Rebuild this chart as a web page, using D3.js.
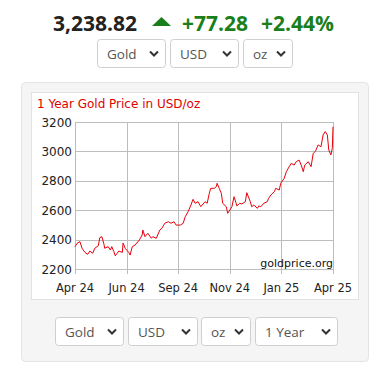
<!DOCTYPE html>
<html>
<head>
<meta charset="utf-8">
<script src="https://cdn.jsdelivr.net/npm/d3@7"></script>
<style>
  html, body { margin: 0; padding: 0; background: #fff; }
  svg { display: block; }
</style>
</head>
<body>
<script>
// header numbers
const price = "3,238.82";
const change = "+77.28";
const changePct = "+2.44%";

// dropdowns
const topSelects = ["Gold", "USD", "oz"];
const bottomSelects = ["Gold", "USD", "oz", "1 Year"];

// chart data: day offset from start of the 1-year window, and price in USD/oz
const days = [0, 3, 7, 10, 14, 18, 21, 25, 28, 33, 35, 38, 41, 42, 47, 50, 52, 55, 57, 62,
  67, 68, 71, 76, 78, 81, 85, 91, 95, 96, 99, 103, 108, 110, 115, 120, 123, 127, 132, 136,
  140, 143, 149, 153, 156, 160, 164, 167, 170, 174, 178, 184, 187, 190, 192, 197, 200, 201, 204, 207,
  209, 214, 216, 219, 222, 225, 228, 229, 233, 236, 241, 243, 248, 250, 253, 258, 260, 263, 267, 272,
  274, 277, 282, 284, 289, 291, 296, 299, 303, 306, 310, 313, 317, 320, 323, 325, 330, 334, 337, 340,
  344, 348, 351, 354, 357, 359, 362, 364, 365];
const prices = [2352, 2375, 2386, 2341, 2313, 2300, 2322, 2307, 2341, 2358, 2413, 2420, 2368, 2341, 2352, 2329, 2352, 2318, 2290, 2322,
  2313, 2377, 2341, 2313, 2295, 2352, 2363, 2397, 2431, 2465, 2420, 2443, 2409, 2420, 2409, 2465, 2477, 2511, 2522, 2511,
  2522, 2499, 2499, 2511, 2556, 2590, 2635, 2674, 2647, 2658, 2624, 2658, 2647, 2715, 2749, 2749, 2760, 2783, 2749, 2715,
  2647, 2624, 2579, 2601, 2624, 2692, 2647, 2629, 2647, 2642, 2658, 2719, 2658, 2624, 2635, 2613, 2629, 2624, 2647, 2658,
  2681, 2703, 2726, 2749, 2737, 2783, 2817, 2862, 2896, 2919, 2907, 2930, 2941, 2907, 2862, 2907, 2930, 2896, 2987, 3000,
  3044, 3032, 3112, 3135, 3112, 3010, 2976, 3021, 3168];

const xTickDays = [0, 73, 146, 219, 292, 365];
const xTickLabels = ["Apr 24", "Jun 24", "Sep 24", "Nov 24", "Jan 25", "Apr 25"];
const yTicks = [2200, 2400, 2600, 2800, 3000, 3200];

const W = 386, H = 375;
const svg = d3.select("body").append("svg")
  .attr("width", W)
  .attr("height", H);

svg.append("rect").attr("width", W).attr("height", H).attr("fill", "#fff");

// header line
const head = svg.append("text")
  .attr("x", 53)
  .attr("y", 31)
  .style("font-family", "'Open Sans', sans-serif")
  .style("font-weight", "bold")
  .style("font-size", "21px");
head.append("tspan").attr("fill", "#222").text(price);
head.append("tspan").attr("x", 182).attr("fill", "#1a7f1a").text(change);
head.append("tspan").attr("x", 261).attr("fill", "#1a7f1a").text(changePct);

svg.append("path")
  .attr("d", "M152,26 L161.5,17 L171,26 Z")
  .attr("fill", "#1a7f1a");

// dropdown boxes
function drawSelect(x, y, w, label) {
  const g = svg.append("g").attr("transform", `translate(${x},${y})`);
  g.append("rect")
    .attr("x", 0.5).attr("y", 0.5)
    .attr("width", w).attr("height", 28)
    .attr("rx", 3)
    .attr("fill", "#fff")
    .attr("stroke", "#cfcfcf");
  g.append("text")
    .attr("x", 10)
    .attr("y", 20)
    .attr("fill", "#555")
    .style("font-family", "'Open Sans', sans-serif")
    .style("font-size", "13.5px")
    .text(label);
  g.append("path")
    .attr("d", `M${w - 15},12.5 L${w - 11},16.5 L${w - 7},12.5`)
    .attr("fill", "none")
    .attr("stroke", "#333")
    .attr("stroke-width", 2);
}

const topX = [97, 170, 243], topW = [68, 68, 49];
topSelects.forEach((s, i) => drawSelect(topX[i], 39, topW[i], s));

// panel
svg.append("rect")
  .attr("x", 21.5).attr("y", 82.5)
  .attr("width", 347).attr("height", 279)
  .attr("rx", 4)
  .attr("fill", "#f5f5f5")
  .attr("stroke", "#e4e4e4");

svg.append("rect")
  .attr("x", 31.5).attr("y", 92.5)
  .attr("width", 327).attr("height", 207)
  .attr("fill", "#fff")
  .attr("stroke", "#e2e2e2");

const botX = [55, 128, 201, 255], botW = [68, 69, 49, 82];
bottomSelects.forEach((s, i) => drawSelect(botX[i], 317, botW[i], s));

// chart
svg.append("text")
  .attr("x", 37)
  .attr("y", 108)
  .attr("fill", "#e00000")
  .style("font-family", "'DejaVu Sans', Verdana, sans-serif")
  .style("font-size", "12px")
  .text("1 Year Gold Price in USD/oz");

const xScale = d3.scaleLinear().domain([0, 365]).range([75, 333]);
const yScale = d3.scaleLinear().domain([2200, 3200]).range([269, 122]);

const grid = svg.append("g");
grid.selectAll("line.h")
  .data(yTicks)
  .enter().append("line")
  .attr("x1", xScale(0)).attr("x2", xScale(365))
  .attr("y1", d => Math.round(yScale(d)) + 0.5)
  .attr("y2", d => Math.round(yScale(d)) + 0.5)
  .attr("stroke", "#bdbdbd");
grid.selectAll("line.v")
  .data(xTickDays)
  .enter().append("line")
  .attr("y1", yScale(3200)).attr("y2", yScale(2200) + 5)
  .attr("x1", d => Math.round(xScale(d)) + 0.5)
  .attr("x2", d => Math.round(xScale(d)) + 0.5)
  .attr("stroke", "#bdbdbd");

svg.selectAll("text.yt")
  .data(yTicks)
  .enter().append("text")
  .attr("x", 72)
  .attr("y", d => yScale(d) + 4.5)
  .attr("text-anchor", "end")
  .attr("fill", "#222")
  .style("font-family", "'DejaVu Sans', Verdana, sans-serif")
  .style("font-size", "12px")
  .text(d => d);

svg.selectAll("text.xt")
  .data(xTickDays)
  .enter().append("text")
  .attr("x", d => xScale(d))
  .attr("y", 292)
  .attr("text-anchor", "middle")
  .attr("fill", "#222")
  .style("font-family", "'DejaVu Sans', Verdana, sans-serif")
  .style("font-size", "11.5px")
  .text((d, i) => xTickLabels[i]);

svg.append("text")
  .attr("x", 333)
  .attr("y", 267)
  .attr("text-anchor", "end")
  .attr("fill", "#111")
  .style("font-family", "'DejaVu Sans', Verdana, sans-serif")
  .style("font-size", "11px")
  .text("goldprice.org");

const line = d3.line()
  .x((d, i) => xScale(days[i]))
  .y(d => yScale(d));

svg.append("path")
  .datum(prices)
  .attr("d", line)
  .attr("fill", "none")
  .attr("stroke", "#e8000b")
  .attr("stroke-width", 1);
</script>
</body>
</html>
